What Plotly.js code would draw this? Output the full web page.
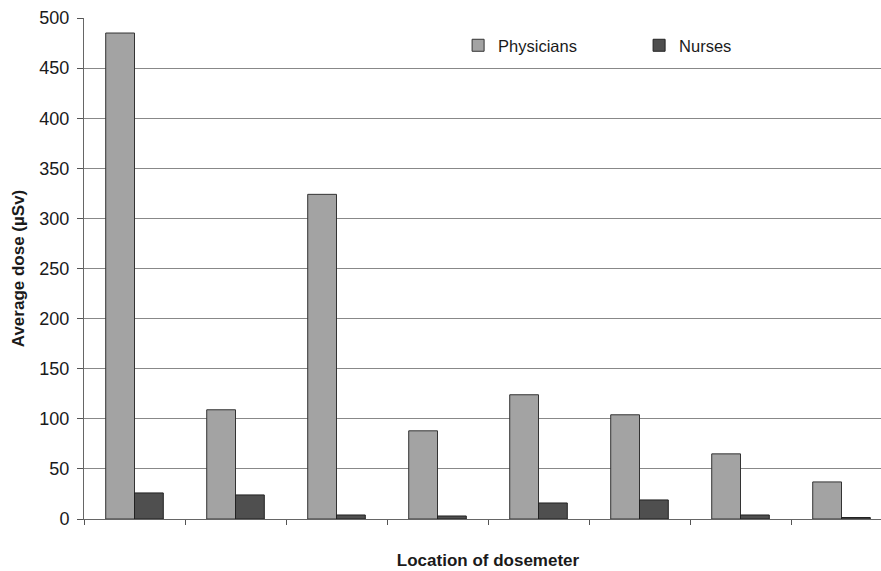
<!DOCTYPE html>
<html>
<head>
<meta charset="utf-8">
<script src="https://cdn.plot.ly/plotly-3.0.1.min.js"></script>
<style>
  html, body { margin: 0; padding: 0; overflow: hidden; background: #fff; }
  #chart { width: 900px; height: 571px; }
</style>
</head>
<body>
<div id="chart"></div>
<script>
const locations = ["1", "2", "3", "4", "5", "6", "7", "8"];
const physicians = [485, 109, 324, 88, 124, 104, 65, 37];
const nurses = [26, 24, 4, 3, 16, 19, 4, 1.5];
const yTicks = [0, 50, 100, 150, 200, 250, 300, 350, 400, 450, 500];

const font = "Liberation Sans, Arial, sans-serif";

const traces = [
  {
    type: "bar",
    name: "Physicians",
    x: locations,
    y: physicians,
    marker: { color: "#a3a3a3", line: { color: "#333333", width: 1 } },
    hoverinfo: "skip"
  },
  {
    type: "bar",
    name: "Nurses",
    x: locations,
    y: nurses,
    marker: { color: "#4f4f4f", line: { color: "#222222", width: 1 } },
    hoverinfo: "skip"
  }
];

const layout = {
  width: 900,
  height: 571,
  margin: { l: 84, r: 8, t: 18, b: 52 },
  paper_bgcolor: "#ffffff",
  plot_bgcolor: "#ffffff",
  font: { family: font, size: 17, color: "#1a1a1a" },
  barmode: "group",
  bargap: 0.43,
  bargroupgap: 0,
  showlegend: true,
  legend: {
    orientation: "h",
    x: 0.463,
    xanchor: "left",
    y: 0.945,
    yanchor: "middle",
    bgcolor: "rgba(0,0,0,0)",
    font: { family: font, size: 16.5, color: "#1a1a1a" },
    entrywidth: 136,
    entrywidthmode: "pixels"
  },
  xaxis: {
    type: "category",
    showticklabels: false,
    tickson: "boundaries",
    ticks: "outside",
    ticklen: 5,
    tickcolor: "#555555",
    showgrid: false,
    showline: true,
    linecolor: "#666666",
    linewidth: 1,
    zeroline: false,
    title: {
      text: "<b>Location of dosemeter</b>",
      font: { family: font, size: 17, color: "#1a1a1a" },
      standoff: 35
    },
    automargin: false
  },
  yaxis: {
    range: [0, 500],
    tickvals: yTicks,
    ticks: "outside",
    ticklen: 6,
    tickcolor: "#555555",
    ticklabelstandoff: 4,
    showgrid: true,
    gridcolor: "#888888",
    gridwidth: 1,
    showline: true,
    linecolor: "#666666",
    linewidth: 1,
    zeroline: false,
    tickfont: { family: font, size: 18, color: "#1a1a1a" },
    title: {
      text: "<b>Average dose (µSv)</b>",
      font: { family: font, size: 17, color: "#1a1a1a" },
      standoff: 10
    },
    automargin: false
  }
};

Plotly.newPlot("chart", traces, layout, { staticPlot: true, displayModeBar: false });
</script>
</body>
</html>
